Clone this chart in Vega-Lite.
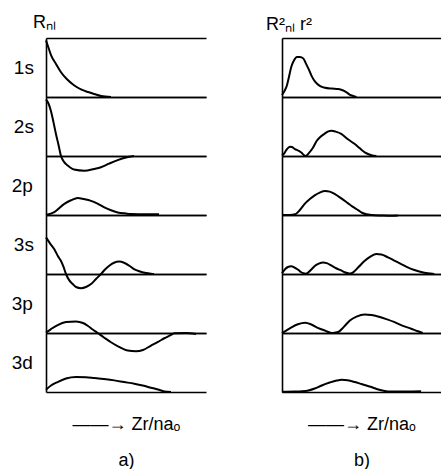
{
 "$schema": "https://vega.github.io/schema/vega-lite/v6.json",
 "background": "white",
 "padding": {"left": 11, "top": 14, "right": 0, "bottom": 0},
 "config": {"view": {"stroke": null}, "font": "Liberation Sans"},
 "datasets": {
  "a": [
   {"o":"1s","x":0,"y":0.96},{"o":"1s","x":0.25,"y":0.86},{"o":"1s","x":0.625,"y":0.71},{"o":"1s","x":1.25,"y":0.56},{"o":"1s","x":1.875,"y":0.42},{"o":"1s","x":2.625,"y":0.30},{"o":"1s","x":3.5,"y":0.20},{"o":"1s","x":4.375,"y":0.13},{"o":"1s","x":5.25,"y":0.084},{"o":"1s","x":6.25,"y":0.042},{"o":"1s","x":6.875,"y":0.017},{"o":"1s","x":8.125,"y":0},
   {"o":"2s","x":0,"y":0.96},{"o":"2s","x":0.31,"y":0.89},{"o":"2s","x":0.625,"y":0.76},{"o":"2s","x":0.94,"y":0.57},{"o":"2s","x":1.25,"y":0.37},{"o":"2s","x":1.56,"y":0.19},{"o":"2s","x":1.875,"y":0},{"o":"2s","x":2.25,"y":-0.10},{"o":"2s","x":2.71,"y":-0.16},{"o":"2s","x":3.5,"y":-0.23},{"o":"2s","x":4.79,"y":-0.25},{"o":"2s","x":6,"y":-0.22},{"o":"2s","x":6.875,"y":-0.19},{"o":"2s","x":7.875,"y":-0.13},{"o":"2s","x":8.96,"y":-0.07},{"o":"2s","x":10,"y":-0.025},{"o":"2s","x":11,"y":0},
   {"o":"2p","x":0,"y":0},{"o":"2p","x":1.04,"y":0.05},{"o":"2p","x":2.29,"y":0.19},{"o":"2p","x":3.125,"y":0.25},{"o":"2p","x":3.96,"y":0.29},{"o":"2p","x":4.75,"y":0.27},{"o":"2p","x":5.625,"y":0.24},{"o":"2p","x":6.5,"y":0.19},{"o":"2p","x":7.29,"y":0.13},{"o":"2p","x":8.125,"y":0.08},{"o":"2p","x":8.96,"y":0.044},{"o":"2p","x":10,"y":0.025},{"o":"2p","x":10.625,"y":0.017},{"o":"2p","x":12.5,"y":0.012},{"o":"2p","x":14.125,"y":0.012},
   {"o":"3s","x":0,"y":0.62},{"o":"3s","x":0.5,"y":0.52},{"o":"3s","x":1.04,"y":0.42},{"o":"3s","x":1.5,"y":0.30},{"o":"3s","x":1.875,"y":0.22},{"o":"3s","x":2.19,"y":0.12},{"o":"3s","x":2.5,"y":0},{"o":"3s","x":2.875,"y":-0.10},{"o":"3s","x":3.34,"y":-0.17},{"o":"3s","x":3.75,"y":-0.22},{"o":"3s","x":4.375,"y":-0.24},{"o":"3s","x":5,"y":-0.22},{"o":"3s","x":5.625,"y":-0.17},{"o":"3s","x":6.25,"y":-0.084},{"o":"3s","x":6.875,"y":0},{"o":"3s","x":7.375,"y":0.076},{"o":"3s","x":7.91,"y":0.14},{"o":"3s","x":8.5,"y":0.19},{"o":"3s","x":9.16,"y":0.21},{"o":"3s","x":9.75,"y":0.19},{"o":"3s","x":10.41,"y":0.14},{"o":"3s","x":11,"y":0.084},{"o":"3s","x":11.66,"y":0.046},{"o":"3s","x":12.5,"y":0.017},{"o":"3s","x":13.125,"y":0.005},{"o":"3s","x":13.5,"y":0},
   {"o":"3p","x":0,"y":0.008},{"o":"3p","x":0.625,"y":0.067},{"o":"3p","x":1.46,"y":0.135},{"o":"3p","x":2.5,"y":0.185},{"o":"3p","x":3.75,"y":0.197},{"o":"3p","x":4.625,"y":0.169},{"o":"3p","x":5.21,"y":0.123},{"o":"3p","x":5.84,"y":0.059},{"o":"3p","x":6.46,"y":0},{"o":"3p","x":7.25,"y":-0.076},{"o":"3p","x":8.125,"y":-0.157},{"o":"3p","x":9.125,"y":-0.236},{"o":"3p","x":10.21,"y":-0.298},{"o":"3p","x":11.25,"y":-0.309},{"o":"3p","x":12.125,"y":-0.287},{"o":"3p","x":13.125,"y":-0.214},{"o":"3p","x":14,"y":-0.152},{"o":"3p","x":14.79,"y":-0.089},{"o":"3p","x":15.5,"y":-0.042},{"o":"3p","x":16.04,"y":-0.005},{"o":"3p","x":17.5,"y":0},{"o":"3p","x":18.75,"y":-0.017},
   {"o":"3d","x":0,"y":0.039},{"o":"3d","x":0.625,"y":0.11},{"o":"3d","x":1.46,"y":0.169},{"o":"3d","x":2.5,"y":0.228},{"o":"3d","x":3.75,"y":0.253},{"o":"3d","x":5,"y":0.25},{"o":"3d","x":6.04,"y":0.236},{"o":"3d","x":7.25,"y":0.219},{"o":"3d","x":8.54,"y":0.197},{"o":"3d","x":9.75,"y":0.169},{"o":"3d","x":11.04,"y":0.14},{"o":"3d","x":12.09,"y":0.11},{"o":"3d","x":13.125,"y":0.073},{"o":"3d","x":14,"y":0.042},{"o":"3d","x":14.79,"y":0.01},{"o":"3d","x":15.625,"y":0}
  ],
  "b": [
   {"o":"1s","x":0,"y":0.034},{"o":"1s","x":0.31,"y":0.10},{"o":"1s","x":0.625,"y":0.20},{"o":"1s","x":0.875,"y":0.34},{"o":"1s","x":1.16,"y":0.51},{"o":"1s","x":1.5,"y":0.62},{"o":"1s","x":1.875,"y":0.68},{"o":"1s","x":2.25,"y":0.68},{"o":"1s","x":2.7,"y":0.65},{"o":"1s","x":3,"y":0.57},{"o":"1s","x":3.325,"y":0.48},{"o":"1s","x":3.75,"y":0.35},{"o":"1s","x":4.16,"y":0.26},{"o":"1s","x":4.75,"y":0.19},{"o":"1s","x":5.41,"y":0.157},{"o":"1s","x":6.25,"y":0.143},{"o":"1s","x":7.075,"y":0.135},{"o":"1s","x":7.625,"y":0.115},{"o":"1s","x":8.125,"y":0.079},{"o":"1s","x":8.5,"y":0.042},{"o":"1s","x":8.95,"y":0.017},{"o":"1s","x":9.375,"y":0},
   {"o":"2s","x":0,"y":0.008},{"o":"2s","x":0.31,"y":0.05},{"o":"2s","x":0.625,"y":0.118},{"o":"2s","x":1,"y":0.157},{"o":"2s","x":1.25,"y":0.152},{"o":"2s","x":1.625,"y":0.118},{"o":"2s","x":2.075,"y":0.089},{"o":"2s","x":2.5,"y":0.05},{"o":"2s","x":2.7,"y":0.022},{"o":"2s","x":3,"y":0},{"o":"2s","x":3.375,"y":0.05},{"o":"2s","x":3.875,"y":0.135},{"o":"2s","x":4.375,"y":0.258},{"o":"2s","x":4.875,"y":0.329},{"o":"2s","x":5.41,"y":0.383},{"o":"2s","x":5.75,"y":0.413},{"o":"2s","x":6.25,"y":0.427},{"o":"2s","x":6.75,"y":0.413},{"o":"2s","x":7.5,"y":0.371},{"o":"2s","x":8.25,"y":0.287},{"o":"2s","x":9.16,"y":0.202},{"o":"2s","x":9.75,"y":0.135},{"o":"2s","x":10.41,"y":0.062},{"o":"2s","x":11,"y":0.025},{"o":"2s","x":11.25,"y":0.012},{"o":"2s","x":11.875,"y":0},
   {"o":"2p","x":0,"y":0},{"o":"2p","x":1,"y":0},{"o":"2p","x":1.66,"y":0.012},{"o":"2p","x":2.25,"y":0.084},{"o":"2p","x":2.91,"y":0.197},{"o":"2p","x":3.5,"y":0.27},{"o":"2p","x":4.16,"y":0.337},{"o":"2p","x":4.75,"y":0.379},{"o":"2p","x":5.41,"y":0.405},{"o":"2p","x":6,"y":0.396},{"o":"2p","x":6.66,"y":0.354},{"o":"2p","x":7.5,"y":0.278},{"o":"2p","x":8.325,"y":0.197},{"o":"2p","x":8.875,"y":0.143},{"o":"2p","x":9.575,"y":0.084},{"o":"2p","x":10.125,"y":0.034},{"o":"2p","x":10.625,"y":0.012},{"o":"2p","x":11.25,"y":0},{"o":"2p","x":12.5,"y":-0.008},{"o":"2p","x":13.75,"y":-0.013},{"o":"2p","x":14.575,"y":-0.008},
   {"o":"3s","x":0,"y":0.012},{"o":"3s","x":0.41,"y":0.084},{"o":"3s","x":0.75,"y":0.118},{"o":"3s","x":1.16,"y":0.13},{"o":"3s","x":1.56,"y":0.11},{"o":"3s","x":2.075,"y":0.067},{"o":"3s","x":2.375,"y":0.034},{"o":"3s","x":2.7,"y":0.012},{"o":"3s","x":3,"y":0.005},{"o":"3s","x":3.325,"y":0.029},{"o":"3s","x":3.75,"y":0.084},{"o":"3s","x":4.16,"y":0.14},{"o":"3s","x":4.625,"y":0.177},{"o":"3s","x":5.2,"y":0.197},{"o":"3s","x":5.625,"y":0.185},{"o":"3s","x":6.25,"y":0.14},{"o":"3s","x":6.875,"y":0.093},{"o":"3s","x":7.5,"y":0.056},{"o":"3s","x":7.875,"y":0.03},{"o":"3s","x":8.325,"y":0.012},{"o":"3s","x":8.625,"y":0.008},{"o":"3s","x":8.95,"y":0.029},{"o":"3s","x":9.625,"y":0.118},{"o":"3s","x":10.41,"y":0.224},{"o":"3s","x":11.125,"y":0.295},{"o":"3s","x":11.875,"y":0.337},{"o":"3s","x":12.5,"y":0.329},{"o":"3s","x":13.325,"y":0.282},{"o":"3s","x":14.125,"y":0.228},{"o":"3s","x":15,"y":0.169},{"o":"3s","x":15.75,"y":0.118},{"o":"3s","x":16.66,"y":0.067},{"o":"3s","x":17.5,"y":0.034},{"o":"3s","x":18.325,"y":0.012},{"o":"3s","x":19.16,"y":0},
   {"o":"3p","x":0,"y":0},{"o":"3p","x":0.625,"y":0.05},{"o":"3p","x":1.25,"y":0.10},{"o":"3p","x":2,"y":0.148},{"o":"3p","x":2.91,"y":0.174},{"o":"3p","x":3.75,"y":0.14},{"o":"3p","x":4.575,"y":0.084},{"o":"3p","x":5.375,"y":0.042},{"o":"3p","x":6.25,"y":0},{"o":"3p","x":6.625,"y":0.005},{"o":"3p","x":7.075,"y":0.017},{"o":"3p","x":7.75,"y":0.10},{"o":"3p","x":8.54,"y":0.212},{"o":"3p","x":9.375,"y":0.278},{"o":"3p","x":10.41,"y":0.314},{"o":"3p","x":11.25,"y":0.304},{"o":"3p","x":12.075,"y":0.28},{"o":"3p","x":13.125,"y":0.236},{"o":"3p","x":14.16,"y":0.185},{"o":"3p","x":15.125,"y":0.126},{"o":"3p","x":16.25,"y":0.073},{"o":"3p","x":17,"y":0.034},{"o":"3p","x":17.7,"y":0},
   {"o":"3d","x":0,"y":0.005},{"o":"3d","x":1.625,"y":0.008},{"o":"3d","x":2.5,"y":0.013},{"o":"3d","x":3.325,"y":0.027},{"o":"3d","x":4.125,"y":0.059},{"o":"3d","x":5,"y":0.111},{"o":"3d","x":6,"y":0.16},{"o":"3d","x":6.875,"y":0.194},{"o":"3d","x":7.5,"y":0.207},{"o":"3d","x":8.25,"y":0.199},{"o":"3d","x":9.16,"y":0.169},{"o":"3d","x":10,"y":0.135},{"o":"3d","x":11.25,"y":0.084},{"o":"3d","x":12,"y":0.047},{"o":"3d","x":12.91,"y":0.017},{"o":"3d","x":13.75,"y":0.008},{"o":"3d","x":15.625,"y":0.008},{"o":"3d","x":17.5,"y":0.012}
  ]
 },
 "spacing": 60,
 "hconcat": [
  {
   "data": {"name": "a"},
   "bounds": "flush",
   "title": {"text": "Rₙₗ", "anchor": "start", "frame": "group", "font": "Liberation Sans", "fontSize": 18, "fontWeight": "normal", "color": "black", "dx": -13},
   "facet": {"row": {"field": "o", "type": "nominal", "sort": ["1s","2s","2p","3s","3p","3d"],
     "header": {"title": null, "labelAngle": 0, "labelFont": "Liberation Sans", "labelFontSize": 19, "labelColor": "black", "labelPadding": -8}}},
   "spacing": 0,
   "spec": {
    "width": 160, "height": 59,
    "mark": {"type": "line", "color": "black", "strokeWidth": 2, "interpolate": "monotone", "clip": false},
    "encoding": {
     "x": {"field": "x", "type": "quantitative", "scale": {"domain": [0, 20], "nice": false},
       "axis": {"labels": false, "ticks": false, "domain": false, "grid": false, "title": ["——→  Zr/naₒ", "a)"], "titleFont": "Liberation Sans", "titleFontSize": 18, "titleFontWeight": "normal", "titleColor": "black", "titlePadding": 23, "titleLineHeight": 36}},
     "y": {"field": "y", "type": "quantitative", "scale": {"domain": [0, 1], "nice": false, "zero": false},
       "axis": {"title": null, "labels": false, "ticks": false, "minExtent": 0, "values": [0, 1], "grid": true, "gridColor": "black", "gridOpacity": 1, "gridWidth": 1.6, "domain": true, "domainColor": "black", "domainWidth": 1.6}}
    }
   }
  },
  {
   "data": {"name": "b"},
   "bounds": "flush",
   "title": {"text": "R²ₙₗ r²", "anchor": "start", "frame": "group", "font": "Liberation Sans", "fontSize": 18, "fontWeight": "normal", "color": "black", "dx": -16},
   "facet": {"row": {"field": "o", "type": "nominal", "sort": ["1s","2s","2p","3s","3p","3d"],
     "header": {"title": null, "labels": false}}},
   "spacing": 0,
   "spec": {
    "width": 159, "height": 59,
    "mark": {"type": "line", "color": "black", "strokeWidth": 2, "interpolate": "monotone", "clip": false},
    "encoding": {
     "x": {"field": "x", "type": "quantitative", "scale": {"domain": [0, 20], "nice": false},
       "axis": {"labels": false, "ticks": false, "domain": false, "grid": false, "title": ["——→  Zr/naₒ", "b)"], "titleFont": "Liberation Sans", "titleFontSize": 18, "titleFontWeight": "normal", "titleColor": "black", "titlePadding": 23, "titleLineHeight": 36}},
     "y": {"field": "y", "type": "quantitative", "scale": {"domain": [0, 1], "nice": false, "zero": false},
       "axis": {"title": null, "labels": false, "ticks": false, "minExtent": 0, "values": [0, 1], "grid": true, "gridColor": "black", "gridOpacity": 1, "gridWidth": 1.6, "domain": true, "domainColor": "black", "domainWidth": 1.6}}
    }
   }
  }
 ]
}
